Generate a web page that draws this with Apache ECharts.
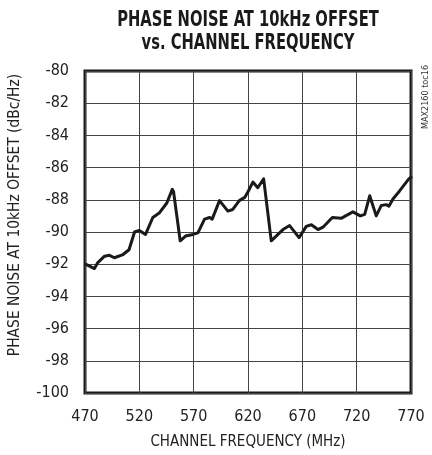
<!DOCTYPE html>
<html>
<head>
<meta charset="utf-8">
<script src="https://cdn.jsdelivr.net/npm/echarts@6/dist/echarts.min.js"></script>
<style>html,body{margin:0;padding:0;background:#fff;}#c{width:432px;height:455px;}</style>
</head>
<body>
<div id="c"></div>
<script>
var titleLines = ['PHASE NOISE AT 10kHz OFFSET', 'vs. CHANNEL FREQUENCY'];
var xName = 'CHANNEL FREQUENCY (MHz)';
var yName = 'PHASE NOISE AT 10kHz OFFSET (dBc/Hz)';
var noteText = 'MAX2160 toc16';
var xTicks = [470, 520, 570, 620, 670, 720, 770];
var yTicks = [-100, -98, -96, -94, -92, -90, -88, -86, -84, -82, -80];
var freqMHz = [470.5, 478.7, 481.8, 488, 492.5, 497, 505, 510.5, 515.6, 520, 525.7, 532.4, 538.6, 545.3, 550.3, 551.5,
  557.6, 562.5, 569.3, 573.9, 580, 584.7, 587, 593.8, 601.5, 606, 612, 617, 620, 624.5, 629, 634.4, 635.5,
  641.4, 647.6, 652.2, 658.3, 667, 673.6, 678.3, 684.4, 689, 697.6, 705.8, 709.8, 716.6, 723.3, 727.4, 732,
  738, 742.7, 747.3, 749.7, 753.4, 759.5, 768, 770];
var phaseNoise = [-92.0, -92.27, -91.9, -91.5, -91.45, -91.6, -91.4, -91.1, -90.0, -89.9, -90.15, -89.1, -88.8, -88.2, -87.35, -87.5,
  -90.55, -90.25, -90.15, -90.05, -89.2, -89.1, -89.2, -88.05, -88.7, -88.6, -88.05, -87.85, -87.5, -86.9, -87.25, -86.7, -86.8,
  -90.55, -90.15, -89.85, -89.6, -90.35, -89.65, -89.55, -89.85, -89.7, -89.1, -89.15, -89.0, -88.75, -89.0, -88.9, -87.75,
  -89.0, -88.35, -88.3, -88.4, -87.95, -87.45, -86.7, -86.6];

var FONT = '"Liberation Sans Narrow", "DejaVu Sans Condensed", sans-serif';
var data = freqMHz.map(function (f, i) { return [f, phaseNoise[i]]; });
var chart = echarts.init(document.getElementById('c'), null, {renderer: 'canvas'});
chart.setOption({
  animation: false,
  backgroundColor: '#fff',
  grid: {left: 85, top: 71, width: 326, height: 324, show: true, borderColor: '#1a1a1a', borderWidth: 3, backgroundColor: 'transparent'},
  xAxis: {
    type: 'value', min: xTicks[0], max: xTicks[xTicks.length - 1], interval: 50,
    name: xName, nameLocation: 'middle', nameGap: 42,
    nameTextStyle: {fontFamily: FONT, fontSize: 15, color: '#222'},
    axisLine: {show: false}, axisTick: {show: false},
    axisLabel: {fontFamily: FONT, fontSize: 16, color: '#222', margin: 16},
    splitLine: {show: true, lineStyle: {color: '#444', width: 1}}
  },
  yAxis: {
    type: 'value', min: yTicks[0], max: yTicks[yTicks.length - 1], interval: 2,
    axisLine: {show: false}, axisTick: {show: false},
    axisLabel: {fontFamily: FONT, fontSize: 16, color: '#222', margin: 16},
    splitLine: {show: true, lineStyle: {color: '#444', width: 1}}
  },
  graphic: [
    {type: 'text', x: 248, y: 20.5, scaleX: 0.78,
     style: {text: titleLines[0], fontFamily: FONT, fontWeight: 'bold', fontSize: 21, fill: '#1a1a1a', textAlign: 'center', textVerticalAlign: 'middle'}},
    {type: 'text', x: 248, y: 44, scaleX: 0.78,
     style: {text: titleLines[1], fontFamily: FONT, fontWeight: 'bold', fontSize: 21, fill: '#1a1a1a', textAlign: 'center', textVerticalAlign: 'middle'}},
    {type: 'text', x: 15, y: 215, rotation: Math.PI / 2,
     style: {text: yName, fontFamily: FONT, fontSize: 15.4, fill: '#222', textAlign: 'center', textVerticalAlign: 'middle'}},
    {type: 'text', x: 426, y: 97, rotation: Math.PI / 2,
     style: {text: noteText, fontFamily: FONT, fontSize: 9, fill: '#333', textAlign: 'center', textVerticalAlign: 'middle'}}
  ],
  series: [{
    type: 'line', data: data, showSymbol: false, smooth: false,
    lineStyle: {color: '#1a1a1a', width: 3, join: 'round', cap: 'round'}
  }]
});
</script>
</body>
</html>
